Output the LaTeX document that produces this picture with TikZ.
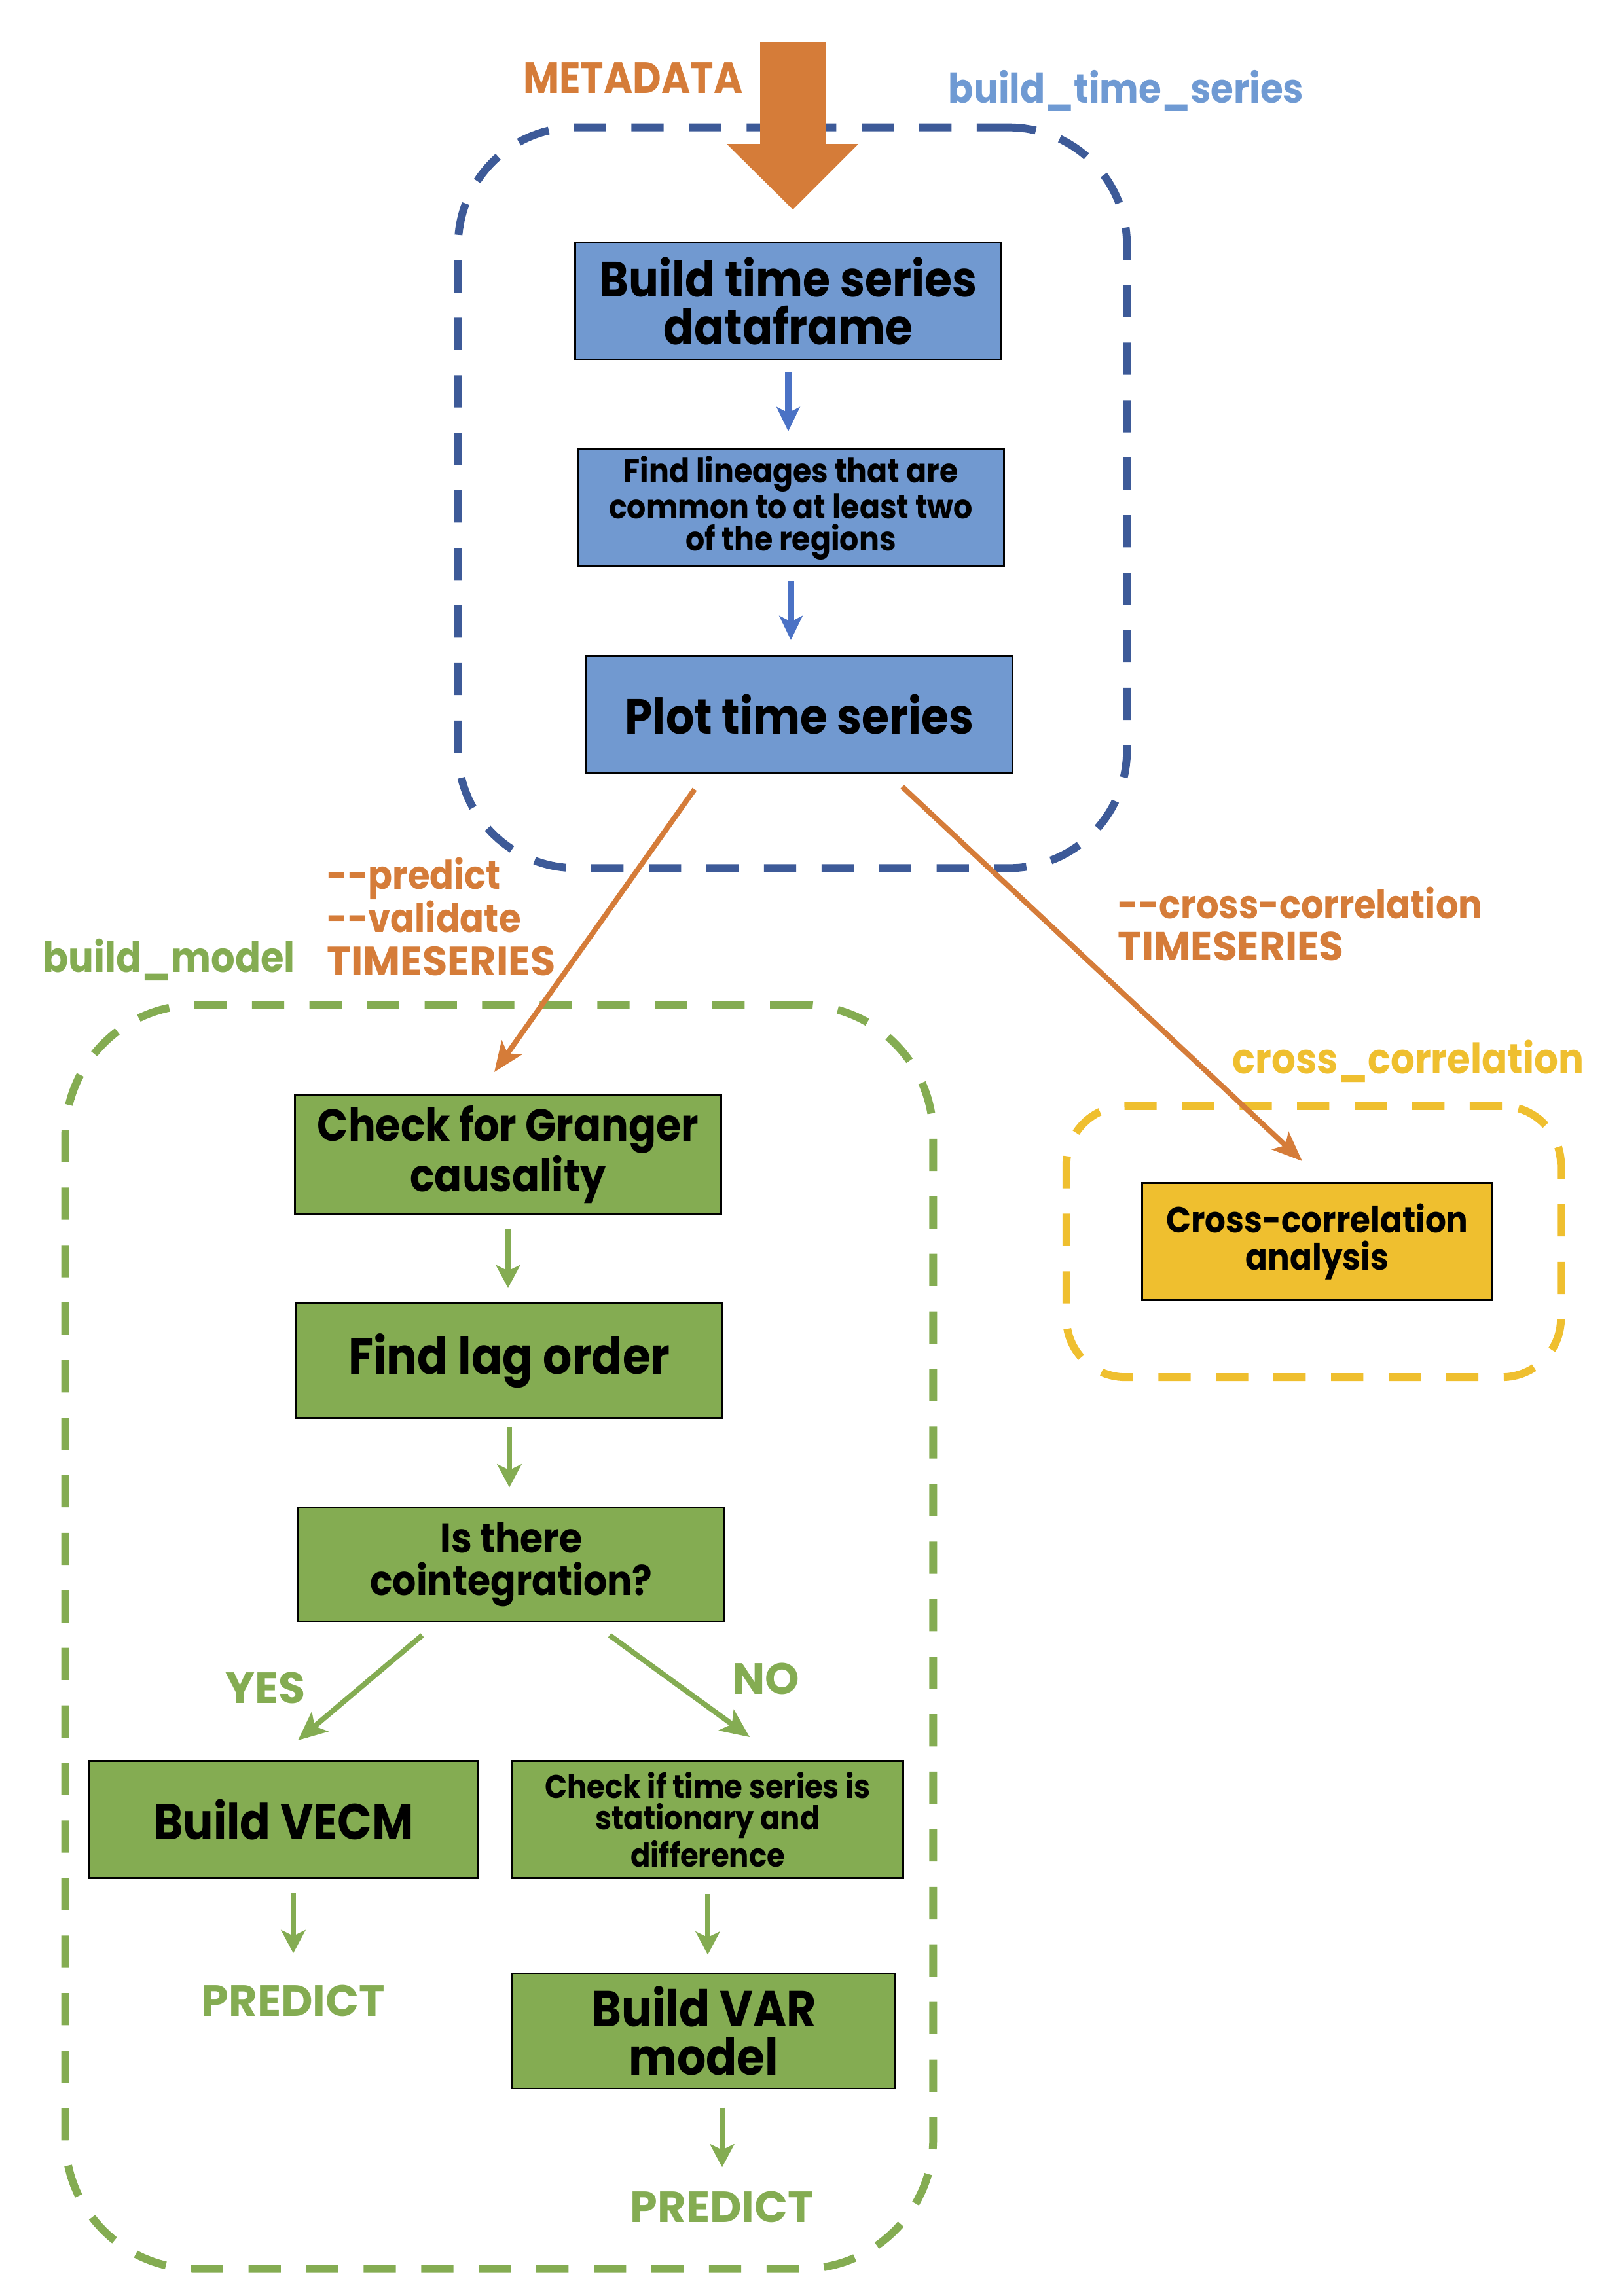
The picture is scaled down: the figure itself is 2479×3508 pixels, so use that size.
\documentclass[tikz,border=0pt]{standalone}
\usepackage{fontspec}
\setmainfont{Poppins}[FakeStretch=0.9]
\newfontfamily\capsfont{Poppins}
\usetikzlibrary{arrows.meta,calc}
\definecolor{orng}{HTML}{D57C39}
\definecolor{lblue}{HTML}{6F9AD3}
\definecolor{dblue}{HTML}{3D5A98}
\definecolor{ablue}{HTML}{4B72C5}
\definecolor{bfill}{HTML}{7199D0}
\definecolor{grn}{HTML}{84AC52}
\definecolor{yel}{HTML}{EFBF2F}
\newcommand{\fs}[2]{\fontsize{#1}{#2}\selectfont}
\tikzset{
  box/.style={draw=black, line width=0.8pt, align=center, inner sep=0pt, text=black},
  bluebox/.style={box, fill=bfill},
  greenbox/.style={box, fill=grn},
  yellowbox/.style={box, fill=yel},
  container/.style={line width=3.4pt, dash pattern=on 14pt off 11pt, rounded corners=1.8cm, inner sep=0pt},
  lbl/.style={inner sep=0pt, anchor=base},
  lblw/.style={inner sep=0pt, anchor=base west},
  barrow/.style={draw=ablue, line width=2.8pt, -{Stealth[length=10.5pt,width=10pt,inset=2.5pt]}},
  garrow/.style={draw=grn, line width=2pt, -{Stealth[length=10pt,width=10.5pt,inset=2.5pt]}},
  gdarrow/.style={draw=grn, line width=2.3pt, -{Stealth[length=12.5pt,width=11pt,inset=3pt]}},
  oarrow/.style={draw=orng, line width=2.3pt, -{Stealth[length=13pt,width=10.5pt,inset=3pt]}},
}
\begin{document}
\begin{tikzpicture}[x=0.01cm,y=-0.01cm,font=\bfseries]
\useasboundingbox (0,0) rectangle (2479,3508);
% containers
\node[container, draw=dblue, minimum width=10.21cm, minimum height=11.31cm] (cbts) at (1210.5,760.5) {};
\node[container, draw=grn, minimum width=13.25cm, minimum height=19.30cm, rounded corners=2cm] (cbm) at (762.5,2501) {};
\node[container, draw=yel, minimum width=7.55cm, minimum height=4.14cm, rounded corners=0.9cm] (ccc) at (2006.5,1897) {};
% container labels
\node[lbl, text=lblue, font=\bfseries\fs{17.8}{20}] (lbts) at (1720,157) {build\_time\_series};
\node[lblw, text=grn, font=\bfseries\fs{18.2}{20}] (lbm) at (65,1485) {build\_model};
\node[lblw, text=yel, font=\bfseries\fs{18.3}{20}] (lcc) at (1882,1640) {cross\_correlation};
% metadata
\node[lbl, text=orng, font=\bfseries\fs{19}{20}] (meta) at (967,142) {METADATA};
\coordinate (mdtip) at (1211,320);
\fill[orng] (1161,64) -- (1261,64) -- (1261,220) -- (1311,220) -- (mdtip) -- (1110,220) -- (1161,220) -- cycle;
% blue boxes
\node[bluebox, minimum width=6.5cm, minimum height=1.78cm, font=\bfseries\fs{21.5}{21}] (b1) at (1204,460) {Build time series\\dataframe};
\node[bluebox, minimum width=6.5cm, minimum height=1.79cm, font=\bfseries\fs{14.5}{13.7}] (b2) at (1208,776) {Find lineages that are\\common to at least two\\of the regions};
\node[bluebox, minimum width=6.5cm, minimum height=1.79cm, font=\bfseries\fs{21.5}{21}] (b3) at (1221,1092) {Plot time series};
\draw[barrow, shorten <=0.19cm, shorten >=0.26cm] (b1.south) -- (b1.south |- b2.north);
\draw[barrow, shorten <=0.21cm, shorten >=0.23cm] (b2.south) -- (b2.south |- b3.north);
% green boxes
\node[greenbox, minimum width=6.5cm, minimum height=1.83cm, font=\bfseries\fs{19.6}{19}] (g1) at (776,1764) {Check for Granger\\causality};
\node[greenbox, minimum width=6.5cm, minimum height=1.75cm, font=\bfseries\fs{22}{19}] (g2) at (778,2079) {Find lag order};
\node[greenbox, minimum width=6.5cm, minimum height=1.74cm, font=\bfseries\fs{18}{18.4}] (g3) at (781,2390) {Is there\\cointegration?};
\node[greenbox, minimum width=5.92cm, minimum height=1.79cm, font=\bfseries\fs{21.8}{21}] (g4) at (433,2780) {Build VECM};
\node[greenbox, minimum width=5.96cm, minimum height=1.79cm, font=\bfseries\fs{14.2}{13.7}] (g5) at (1081,2780) {Check if time series is\\stationary and\\difference};
\node[greenbox, minimum width=5.84cm, minimum height=1.76cm, font=\bfseries\fs{22}{21}] (g6) at (1075,3103) {Build VAR\\model};
\draw[garrow, shorten <=0.20cm, shorten >=0.22cm] (g1.south) -- (g1.south |- g2.north);
\draw[garrow, shorten <=0.13cm, shorten >=0.29cm] (g2.south) -- (g2.south |- g3.north);
\node[lbl, text=grn, font=\capsfont\bfseries\fs{19}{20}] (yes) at (406,2602) {YES};
\node[lbl, text=grn, font=\capsfont\bfseries\fs{19}{20}] (no) at (1170,2588) {NO};
\draw[gdarrow] ([xshift=-1.36cm,yshift=-0.2cm]g3.south) -- ([xshift=0.22cm,yshift=0.30cm]g4.north);
\draw[gdarrow] ([xshift=1.5cm,yshift=-0.2cm]g3.south) -- ([xshift=0.64cm,yshift=0.35cm]g5.north);
\node[lbl, text=grn, font=\capsfont\bfseries\fs{19}{20}, text height=0.5cm, text depth=0pt] (p1) at (448,3080) {PREDICT};
\node[lbl, text=grn, font=\capsfont\bfseries\fs{19}{20}, text height=0.5cm, text depth=0pt] (p2) at (1103,3395) {PREDICT};
\draw[garrow, shorten <=0.22cm, shorten >=0.45cm] (g4.south -| p1.north) -- (p1.north);
\draw[garrow, shorten <=0.23cm, shorten >=0.27cm] (g5.south) -- (g5.south |- g6.north);
\draw[garrow, shorten <=0.27cm, shorten >=0.33cm] (g6.south -| p2.north) -- (p2.north);
% yellow box
\node[yellowbox, minimum width=5.34cm, minimum height=1.79cm, font=\bfseries\fs{15.8}{16.2}] (y1) at (2012,1897) {Cross-correlation\\analysis};
% orange labels
\node[lblw, text=orng, font=\bfseries\fs{17.2}{18}] (opred) at (499,1358) {-{}-predict};
\node[lblw, text=orng, font=\bfseries\fs{17.2}{18}] (oval) at (499,1424) {-{}-validate};
\node[lblw, text=orng, font=\capsfont\bfseries\fs{17.7}{18}] (ots1) at (499,1490) {TIMESERIES};
\node[lblw, text=orng, font=\bfseries\fs{17.2}{18}] (ocross) at (1707,1403) {-{}-cross-correlation};
\node[lblw, text=orng, font=\capsfont\bfseries\fs{17.5}{18}] (ots2) at (1707,1467) {TIMESERIES};
% orange connectors
\draw[oarrow] ([xshift=-1.6cm,yshift=-0.23cm]b3.south) -- ([xshift=-0.21cm,yshift=0.33cm]g1.north);
\draw[oarrow] ([xshift=1.57cm,yshift=-0.19cm]b3.south) -- ([xshift=-0.23cm,yshift=0.32cm]y1.north);
\end{tikzpicture}
\end{document}
